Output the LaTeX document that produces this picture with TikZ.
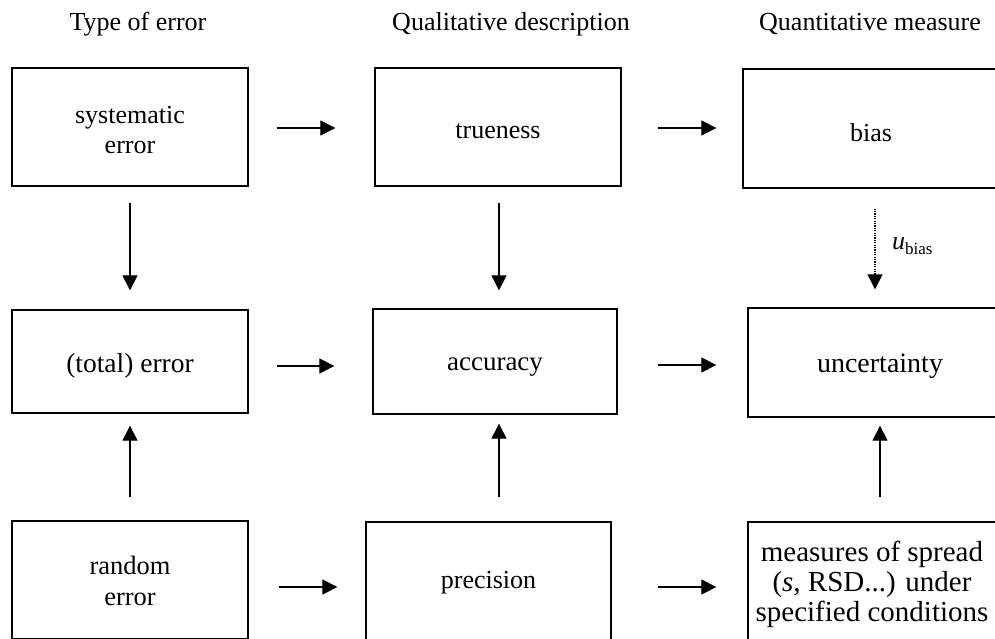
\documentclass[tikz,border=0pt]{standalone}
\usepackage{fontspec}
\setmainfont{Liberation Serif}
\usetikzlibrary{arrows.meta}
\tikzset{
  box/.style={draw, line width=1.3pt, rectangle, inner sep=0pt},
  lbl/.style={inner sep=0pt, align=center, font=\fontsize{26}{30}\selectfont},
  hdr/.style={inner sep=0pt, font=\fontsize{26}{30}\selectfont},
  arr/.style={line width=1.1pt, -{Triangle[length=15pt,width=15pt]}},
  dotarr/.style={arr, dash pattern=on 1.2pt off 1.2pt}
}
\begin{document}
\begin{tikzpicture}[x=1pt,y=-1pt]
\useasboundingbox (0,0) rectangle (995,639);
\clip (0,0) rectangle (995,639);
% headers
\node[hdr] (h1) at (138,24) {Type of error};
\node[hdr] (h2) at (511,24) {Qualitative description};
\node[hdr] (h3) at (870,24) {Quantitative measure};
% top row
\node[box, minimum width=236pt, minimum height=118pt,
  label={[lbl, yshift=-3pt]center:systematic\\error}] (sys) at (130,127) {};
\node[box, minimum width=246pt, minimum height=118pt,
  label={[lbl, yshift=-4pt]center:trueness}] (tru) at (498,127) {};
\node[box, minimum width=256pt, minimum height=119pt,
  label={[lbl, yshift=-4pt]center:bias}] (bias) at (871,128.5) {};
% middle row
\node[box, minimum width=236pt, minimum height=103pt,
  label={[lbl, yshift=-4pt, font=\fontsize{27.5}{30}\selectfont]center:(total) error}] (tot) at (130,361.5) {};
\node[box, minimum width=244pt, minimum height=105pt,
  label={[lbl, yshift=-6pt, font=\fontsize{27}{30}\selectfont]center:accuracy}] (acc) at (495,361.5) {};
\node[box, minimum width=264pt, minimum height=109pt,
  label={[lbl, yshift=-4pt, font=\fontsize{28}{30}\selectfont]center:uncertainty}] (unc) at (880,362.5) {};
% bottom row
\node[box, minimum width=236pt, minimum height=118pt,
  label={[lbl, yshift=-1pt, font=\fontsize{26.5}{31.5}\selectfont]center:random\\error}] (rnd) at (130,580) {};
\node[box, minimum width=245pt, minimum height=118pt,
  label={[lbl, yshift=-2pt]center:precision}] (prec) at (488.5,581) {};
\node[box, minimum width=248pt, minimum height=118pt,
  label={[lbl, yshift=-3pt, font=\fontsize{29}{30}\selectfont]center:measures of spread\\(\textit{s}, RSD...) under\\specified conditions}] (meas) at (872,581) {};
% horizontal arrows
\draw[arr, shorten <=28pt, shorten >=39pt] ([yshift=-1pt]sys.east) -- ([yshift=-1pt]tru.west);
\draw[arr, shorten <=36pt, shorten >=26pt] ([yshift=-1pt]tru.east) -- ([yshift=0.5pt]bias.west);
\draw[arr, shorten <=28pt, shorten >=38pt] ([yshift=-4.5pt]tot.east) -- ([yshift=-4.5pt]acc.west);
\draw[arr, shorten <=40pt, shorten >=31pt] ([yshift=-3.5pt]acc.east) -- ([yshift=-2.5pt]unc.west);
\draw[arr, shorten <=30pt, shorten >=28pt] ([yshift=-7pt]rnd.east) -- ([yshift=-6pt]prec.west);
\draw[arr, shorten <=46pt, shorten >=31pt] ([yshift=-6pt]prec.east) -- ([yshift=-6pt]meas.west);
% vertical arrows
\draw[arr, shorten <=16pt, shorten >=19pt] (sys.south) -- (tot.north);
\draw[arr, shorten <=16pt, shorten >=18pt] ([xshift=1pt]tru.south) -- ([xshift=4pt]acc.north);
\draw[dotarr, shorten <=20pt, shorten >=18pt] ([xshift=4pt]bias.south) -- ([xshift=-5pt]unc.north);
\node[anchor=west, inner sep=0pt, font=\fontsize{26}{30}\selectfont] (ub) at (892,246)
  {\textit{u}\raisebox{-5pt}{\fontsize{17}{17}\selectfont bias}};
\draw[arr, shorten <=23pt, shorten >=12pt] (rnd.north) -- (tot.south);
\draw[arr, shorten <=24pt, shorten >=9pt] ([xshift=10.5pt]prec.north) -- ([xshift=4pt]acc.south);
\draw[arr, shorten <=24pt, shorten >=8pt] ([xshift=8pt]meas.north) -- (unc.south);
\end{tikzpicture}
\end{document}
